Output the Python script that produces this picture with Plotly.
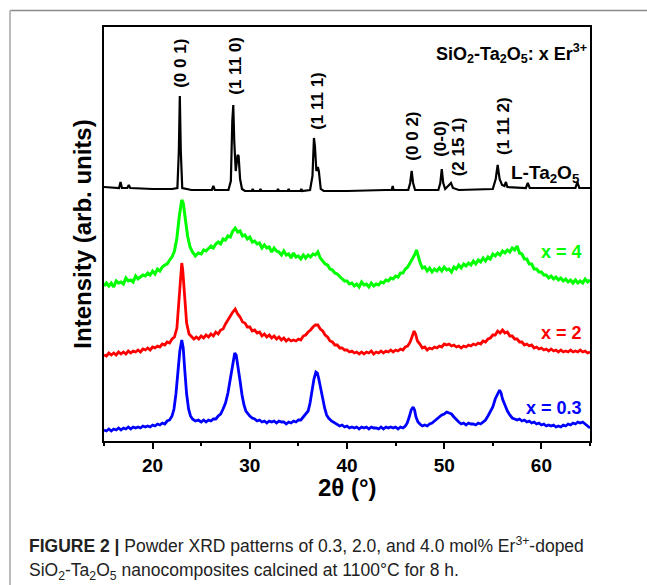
import plotly.graph_objects as go

# ---------------- data (intensity in arbitrary offset units) ----------------
black_x = [15.0, 16.0, 16.55, 16.7, 16.85, 17.4, 17.55, 17.7, 20.0, 22.0, 22.55, 22.7, 22.8, 22.9, 23.05,
           24.0, 26.1, 26.25, 26.4, 27.8, 28.05, 28.2, 28.3, 28.4, 28.55, 28.75, 28.85, 29.0, 29.2, 29.5,
           30.2, 30.3, 30.4, 31.0, 31.1, 31.2, 32.8, 32.9, 33.0, 33.9, 34.0, 34.1, 35.2, 35.3, 35.4, 36.2,
           36.45, 36.6, 36.7, 36.85, 37.0, 37.1, 37.3, 37.6, 40.0, 44.0, 44.6, 44.7, 44.8, 46.3, 46.5,
           46.65, 46.8, 47.0, 49.4, 49.6, 49.75, 49.9, 50.1, 50.5, 50.7, 50.9, 51.5, 55.0, 55.3, 55.5,
           55.7, 55.95, 56.2, 56.35, 56.5, 58.4, 58.6, 58.8, 63.5, 63.7, 63.9, 65.0]
black_y = [254, 253, 253, 259, 253, 253, 256, 253, 252, 252, 253, 290, 345, 290, 253,
           251, 251, 255, 251, 251, 260, 320, 336, 300, 270, 286, 285, 262, 252, 250,
           250, 252, 250, 250, 252, 250, 250, 252, 250, 250, 252, 250, 250, 252, 250, 251,
           265, 303, 295, 270, 274, 270, 252, 250, 250, 251, 251, 255, 251, 251, 258,
           270, 258, 251, 251, 258, 272, 258, 252, 256, 258, 253, 251, 252, 262, 276,
           262, 256, 255, 259, 254, 253, 258, 253, 253, 259, 253, 253]

green_x = [15.0, 15.25, 15.5, 15.75, 16.0, 16.25, 16.5, 16.75, 17.0, 17.25, 17.5, 17.75, 18.0, 18.25, 18.5,
           18.75, 19.0, 19.25, 19.5, 19.75, 20.0, 20.25, 20.5, 20.75, 21.0, 21.25, 21.5, 21.75, 22.0, 22.25,
           22.5, 22.75, 23.0, 23.15, 23.35, 23.6, 23.85, 24.1, 24.4, 24.7, 25.0, 25.25, 25.5, 25.75, 26.0,
           26.25, 26.5, 26.75, 27.0, 27.25, 27.5, 27.75, 28.0, 28.25, 28.5, 28.75, 29.0, 29.25, 29.5, 29.75,
           30.0, 30.25, 30.5, 30.75, 31.0, 31.25, 31.5, 31.75, 32.0, 32.25, 32.5, 32.75, 33.0, 33.25, 33.5,
           33.75, 34.0, 34.25, 34.5, 34.75, 35.0, 35.25, 35.5, 35.75, 36.0, 36.25, 36.5, 36.75, 37.0, 37.25,
           37.5, 37.75, 38.0, 38.25, 38.5, 38.75, 39.0, 39.25, 39.5, 39.75, 40.0, 40.25, 40.5, 40.75, 41.0,
           41.25, 41.5, 41.75, 42.0, 42.25, 42.5, 42.75, 43.0, 43.25, 43.5, 43.75, 44.0, 44.25, 44.5, 44.75,
           45.0, 45.25, 45.5, 45.75, 46.0, 46.25, 46.5, 46.75, 47.0, 47.15, 47.3, 47.5, 47.75, 48.0, 48.25,
           48.5, 48.75, 49.0, 49.25, 49.5, 49.75, 50.0, 50.25, 50.5, 50.75, 51.0, 51.25, 51.5, 51.75, 52.0,
           52.25, 52.5, 52.75, 53.0, 53.25, 53.5, 53.75, 54.0, 54.25, 54.5, 54.75, 55.0, 55.25, 55.5, 55.75,
           56.0, 56.25, 56.5, 56.75, 57.0, 57.25, 57.5, 57.75, 58.0, 58.25, 58.5, 58.75, 59.0, 59.25, 59.5,
           59.75, 60.0, 60.25, 60.5, 60.75, 61.0, 61.25, 61.5, 61.75, 62.0, 62.25, 62.5, 62.75, 63.0, 63.25,
           63.5, 63.75, 64.0, 64.25, 64.5, 64.75, 65.0]
green_y = [155, 158, 155, 158, 154, 160, 158, 159, 157, 163, 160, 161, 159, 165, 162,
           164, 166, 165, 168, 166, 170, 167, 172, 170, 174, 176, 177, 181, 184, 190,
           203, 225, 241, 238, 222, 205, 194, 189, 185, 188, 187, 191, 190, 193, 195,
           193, 197, 199, 197, 202, 201, 205, 204, 210, 213, 209, 210, 205, 206, 202,
           204, 199, 200, 197, 198, 193, 196, 193, 194, 189, 193, 190, 189, 186, 190,
           186, 187, 183, 188, 184, 185, 182, 186, 183, 186, 184, 187, 186, 189, 183,
           180, 177, 176, 172, 171, 168, 167, 164, 162, 160, 160, 157, 158, 155, 157,
           154, 159, 156, 157, 154, 158, 155, 157, 156, 159, 158, 161, 160, 163, 162,
           165, 164, 168, 168, 172, 174, 178, 183, 187, 191, 185, 179, 173, 174, 170,
           173, 169, 172, 170, 173, 170, 174, 171, 172, 169, 174, 172, 176, 173, 177,
           175, 178, 176, 180, 177, 181, 179, 183, 180, 184, 182, 187, 185, 188, 186,
           190, 188, 191, 189, 193, 191, 195, 188, 187, 182, 182, 177, 177, 172, 172,
           169, 169, 166, 166, 163, 165, 162, 164, 161, 163, 160, 162, 159, 161, 158,
           161, 158, 160, 158, 162, 159, 161]

red_x = [15.0, 15.25, 15.5, 15.75, 16.0, 16.25, 16.5, 16.75, 17.0, 17.25, 17.5, 17.75, 18.0, 18.25, 18.5,
         18.75, 19.0, 19.25, 19.5, 19.75, 20.0, 20.25, 20.5, 20.75, 21.0, 21.25, 21.5, 21.75, 22.0, 22.25,
         22.5, 22.7, 22.9, 23.0, 23.1, 23.3, 23.5, 23.75, 24.0, 24.25, 24.5, 24.75, 25.0, 25.25, 25.5,
         25.75, 26.0, 26.25, 26.5, 26.75, 27.0, 27.25, 27.5, 27.75, 28.0, 28.25, 28.5, 28.75, 29.0, 29.25,
         29.5, 29.75, 30.0, 30.25, 30.5, 30.75, 31.0, 31.25, 31.5, 31.75, 32.0, 32.25, 32.5, 32.75, 33.0,
         33.25, 33.5, 33.75, 34.0, 34.25, 34.5, 34.75, 35.0, 35.25, 35.5, 35.75, 36.0, 36.25, 36.5, 36.75,
         37.0, 37.25, 37.5, 37.75, 38.0, 38.25, 38.5, 38.75, 39.0, 39.25, 39.5, 39.75, 40.0, 40.25, 40.5,
         40.75, 41.0, 41.25, 41.5, 41.75, 42.0, 42.25, 42.5, 42.75, 43.0, 43.25, 43.5, 43.75, 44.0, 44.25,
         44.5, 44.75, 45.0, 45.25, 45.5, 45.75, 46.0, 46.25, 46.5, 46.7, 46.9, 47.05, 47.25, 47.5, 47.75,
         48.0, 48.25, 48.5, 48.75, 49.0, 49.25, 49.5, 49.75, 50.0, 50.25, 50.5, 50.75, 51.0, 51.25, 51.5,
         51.75, 52.0, 52.25, 52.5, 52.75, 53.0, 53.25, 53.5, 53.75, 54.0, 54.25, 54.5, 54.75, 55.0, 55.25,
         55.5, 55.75, 56.0, 56.25, 56.5, 56.75, 57.0, 57.25, 57.5, 57.75, 58.0, 58.25, 58.5, 58.75, 59.0,
         59.25, 59.5, 59.75, 60.0, 60.25, 60.5, 60.75, 61.0, 61.25, 61.5, 61.75, 62.0, 62.25, 62.5, 62.75,
         63.0, 63.25, 63.5, 63.75, 64.0, 64.25, 64.5, 64.75, 65.0]
red_y = [86, 85, 88, 86, 88, 86, 89, 87, 89, 87, 90, 88, 90, 89, 91,
         89, 92, 91, 93, 91, 94, 93, 95, 94, 97, 96, 99, 98, 102, 104,
         113, 140, 172, 178, 171, 141, 118, 107, 104, 102, 104, 102, 105, 103, 106,
         104, 107, 105, 109, 107, 111, 112, 117, 121, 126, 129, 132, 127, 124, 119,
         118, 114, 114, 110, 111, 108, 109, 105, 107, 104, 106, 103, 105, 102, 104,
         101, 103, 100, 102, 100, 101, 100, 102, 101, 105, 106, 109, 111, 114, 116,
         116, 112, 110, 106, 104, 100, 99, 96, 96, 93, 93, 91, 91, 89, 90,
         88, 89, 87, 89, 87, 89, 88, 90, 87, 89, 88, 90, 88, 90, 89,
         91, 89, 91, 90, 92, 91, 94, 95, 99, 105, 110, 107, 100, 97, 93,
         94, 91, 93, 92, 94, 93, 95, 94, 97, 96, 97, 95, 96, 94, 95,
         93, 95, 94, 96, 95, 97, 96, 98, 97, 100, 99, 102, 103, 106, 106,
         110, 108, 111, 108, 109, 105, 105, 102, 102, 99, 99, 96, 97, 95, 96,
         93, 94, 92, 93, 91, 92, 90, 92, 90, 91, 89, 91, 89, 90, 89,
         91, 89, 90, 89, 91, 89, 90, 88, 89]

blue_x = [15.0, 15.25, 15.5, 15.75, 16.0, 16.25, 16.5, 16.75, 17.0, 17.25, 17.5, 17.75, 18.0, 18.25, 18.5,
          18.75, 19.0, 19.25, 19.5, 19.75, 20.0, 20.25, 20.5, 20.75, 21.0, 21.25, 21.5, 21.75, 22.0, 22.2,
          22.4, 22.6, 22.8, 23.0, 23.15, 23.3, 23.5, 23.7, 23.9, 24.1, 24.4, 24.7, 25.0, 25.25, 25.5,
          25.75, 26.0, 26.25, 26.5, 26.75, 27.0, 27.25, 27.5, 27.75, 28.0, 28.25, 28.45, 28.6, 28.8, 29.0,
          29.2, 29.4, 29.6, 29.8, 30.0, 30.25, 30.5, 30.75, 31.0, 31.25, 31.5, 31.75, 32.0, 32.25, 32.5,
          32.75, 33.0, 33.25, 33.5, 33.75, 34.0, 34.25, 34.5, 34.75, 35.0, 35.25, 35.5, 35.75, 36.0, 36.2,
          36.4, 36.6, 36.8, 36.95, 37.1, 37.3, 37.5, 37.7, 37.9, 38.1, 38.4, 38.75, 39.0, 39.25, 39.5,
          39.75, 40.0, 40.25, 40.5, 40.75, 41.0, 41.25, 41.5, 41.75, 42.0, 42.25, 42.5, 42.75, 43.0, 43.25,
          43.5, 43.75, 44.0, 44.25, 44.5, 44.75, 45.0, 45.25, 45.5, 45.75, 46.0, 46.2, 46.4, 46.6, 46.8,
          46.95, 47.1, 47.3, 47.5, 47.75, 48.0, 48.25, 48.5, 48.75, 49.0, 49.25, 49.5, 49.75, 50.0, 50.25,
          50.5, 50.75, 51.0, 51.25, 51.5, 51.75, 52.0, 52.25, 52.5, 52.75, 53.0, 53.25, 53.5, 53.75, 54.0,
          54.25, 54.5, 54.75, 55.0, 55.25, 55.5, 55.7, 55.85, 56.0, 56.25, 56.5, 56.75, 57.0, 57.25, 57.5,
          57.75, 58.0, 58.25, 58.5, 58.75, 59.0, 59.25, 59.5, 59.75, 60.0, 60.25, 60.5, 60.75, 61.0, 61.25,
          61.5, 61.75, 62.0, 62.25, 62.5, 62.75, 63.0, 63.25, 63.5, 63.75, 64.0, 64.25, 64.5, 64.75, 65.0]
blue_y = [11, 10, 12, 10, 12, 11, 13, 11, 13, 12, 14, 12, 14, 13, 14,
          13, 15, 14, 15, 14, 16, 15, 17, 16, 18, 17, 20, 21, 25, 32,
          47, 68, 90, 101, 93, 72, 47, 32, 25, 22, 20, 21, 19, 21, 19,
          21, 20, 22, 22, 25, 27, 32, 38, 48, 64, 80, 88, 86, 75, 60,
          46, 36, 30, 27, 25, 23, 22, 20, 21, 19, 20, 18, 20, 19, 20,
          18, 20, 19, 19, 17, 19, 18, 20, 19, 21, 21, 24, 26, 30, 38,
          50, 62, 69, 68, 62, 51, 41, 33, 26, 23, 20, 18, 17, 15, 16,
          14, 15, 13, 14, 13, 14, 12, 14, 13, 14, 12, 14, 13, 13, 12,
          14, 12, 14, 13, 14, 13, 14, 12, 14, 13, 15, 18, 24, 31, 34,
          31, 24, 19, 17, 15, 16, 15, 17, 18, 20, 22, 24, 26, 27, 29,
          28, 27, 24, 21, 19, 17, 18, 16, 18, 17, 17, 16, 18, 17, 19,
          21, 25, 29, 34, 42, 48, 51, 48, 42, 36, 30, 26, 23, 22, 21,
          22, 20, 21, 19, 20, 18, 19, 17, 18, 16, 17, 15, 16, 15, 16,
          14, 15, 14, 16, 15, 17, 16, 18, 17, 19, 18, 19, 17, 15, 13]

x_ticks = [20, 30, 40, 50, 60]
peak_labels = ["(0 0 1)", "(1 11 0)", "(1 11 1)", "(0 0 2)", "(0-0)", "(2 15 1)", "(1 11 2)"]
peak_label_x = [22.8, 28.45, 36.9, 46.65, 49.55, 51.45, 56.05]
peak_label_y = [378, 375, 340, 305, 302, 294, 315]
series_labels = ["x = 4", "x = 2", "x = 0.3"]
series_colors = ["#00ff00", "#ff0000", "#0000ff"]

FONT = "Arial, Liberation Sans, sans-serif"

fig = go.Figure()
fig.add_trace(go.Scatter(x=black_x, y=black_y, mode="lines", line=dict(color="black", width=2.2)))
fig.add_trace(go.Scatter(x=green_x, y=green_y, mode="lines", line=dict(color=series_colors[0], width=3)))
fig.add_trace(go.Scatter(x=red_x, y=red_y, mode="lines", line=dict(color=series_colors[1], width=2.8)))
fig.add_trace(go.Scatter(x=blue_x, y=blue_y, mode="lines", line=dict(color=series_colors[2], width=2.8)))

ann = []
for t, x, y in zip(peak_labels, peak_label_x, peak_label_y):
    ann.append(dict(x=x, y=y, xref="x", yref="y", text=t, textangle=-90, showarrow=False,
                    xanchor="center", yanchor="middle",
                    font=dict(family=FONT, size=17, color="black", weight="bold")))
for t, c, y in zip(series_labels, series_colors, [189, 108, 33]):
    ann.append(dict(x=64.4, y=y, xref="x", yref="y", text=t, xanchor="right", yanchor="middle",
                    showarrow=False, font=dict(family=FONT, size=18, color=c, weight="bold")))
ann.append(dict(x=64.2, y=267, xref="x", yref="y", text="L-Ta<sub>2</sub>O<sub>5</sub>", xanchor="right",
                yanchor="middle", showarrow=False, font=dict(family=FONT, size=19, color="black", weight="bold")))
ann.append(dict(x=64.9, y=388, xref="x", yref="y",
                text="SiO<sub>2</sub>-Ta<sub>2</sub>O<sub>5</sub>: x Er<sup>3+</sup>",
                xanchor="right", yanchor="middle", showarrow=False,
                font=dict(family=FONT, size=18, color="black", weight="bold")))
# axis titles
ann.append(dict(x=-0.046, y=0.5, xref="paper", yref="paper", text="Intensity (arb. units)", textangle=-90,
                xanchor="center", yanchor="middle",
                showarrow=False, font=dict(family=FONT, size=24, color="black", weight="bold")))
ann.append(dict(x=0.5, y=-0.113, xref="paper", yref="paper", text="2θ (°)", showarrow=False,
                xanchor="center", yanchor="middle",
                font=dict(family=FONT, size=24, color="black", weight="bold")))
# caption
ann.append(dict(x=-0.1585, y=-0.2512, xref="paper", yref="paper", xanchor="left", yanchor="middle",
                text="<b>FIGURE 2 |</b> Powder XRD patterns of 0.3, 2.0, and 4.0 mol% Er<sup>3+</sup>-doped",
                showarrow=False, font=dict(family=FONT, size=17.5, color="#222222")))
ann.append(dict(x=-0.1585, y=-0.3164, xref="paper", yref="paper", xanchor="left", yanchor="middle",
                text="SiO<sub>2</sub>-Ta<sub>2</sub>O<sub>5</sub> nanocomposites calcined at 1100°C for 8 h.",
                showarrow=False, font=dict(family=FONT, size=17.5, color="#222222")))

shapes = [
    dict(type="line", xref="paper", yref="paper", x0=-0.1934, x1=1.2, y0=1.0399, y1=1.0399,
         line=dict(color="#8a8a8a", width=1.5)),
    dict(type="line", xref="paper", yref="paper", x0=-0.1934, x1=-0.1934, y0=1.0399, y1=-0.36,
         line=dict(color="#bbbbbb", width=2)),
]

fig.update_layout(
    width=647, height=585,
    margin=dict(l=104, r=57, t=27, b=144),
    paper_bgcolor="white", plot_bgcolor="white",
    showlegend=False,
    annotations=ann, shapes=shapes,
    xaxis=dict(range=[15, 65], tickvals=x_ticks, ticks="outside", ticklen=6, tickwidth=2,
               tickcolor="black", showline=True, linewidth=2, linecolor="black", mirror=True,
               showgrid=False, zeroline=False,
               minor=dict(dtick=5, tick0=15, ticks="outside", ticklen=3, tickwidth=2, tickcolor="black"),
               tickfont=dict(family=FONT, size=19, color="black", weight="bold")),
    yaxis=dict(range=[0, 414], showticklabels=False, ticks="", showline=True, linewidth=2,
               linecolor="black", mirror=True, showgrid=False, zeroline=False),
)

fig.write_html("out.html")
